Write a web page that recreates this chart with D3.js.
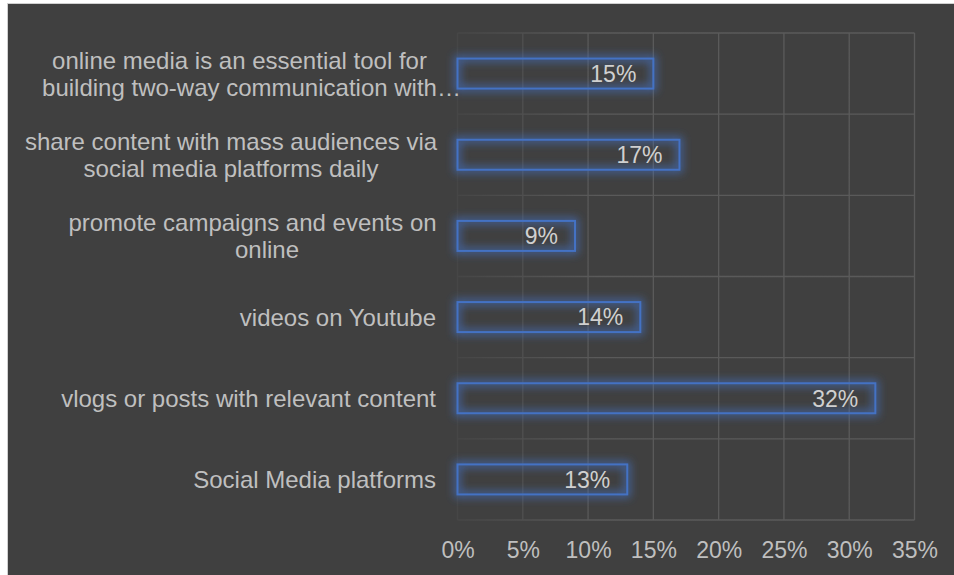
<!DOCTYPE html>
<html>
<head>
<meta charset="utf-8">
<script src="https://cdn.jsdelivr.net/npm/d3@7/dist/d3.min.js"></script>
<style>
  html, body { margin: 0; padding: 0; background: #404040; overflow: hidden; }
  svg { display: block; }
  text { font-family: "Liberation Sans", Arial, sans-serif; }
</style>
</head>
<body>
<svg id="chart" width="954" height="575"></svg>
<script>
// Category labels (wrapped lines), top to bottom
const categories = [
  ["online media is an essential tool for", "building two-way communication with\u2026"],
  ["share content with mass audiences via", "social media platforms daily"],
  ["promote campaigns and events on", "online"],
  ["videos on Youtube"],
  ["vlogs or posts with relevant content"],
  ["Social Media platforms"]
];
const values = [15, 17, 9, 14, 32, 13];
const tickValues = [0, 5, 10, 15, 20, 25, 30, 35];
const tickLabels = ["0%", "5%", "10%", "15%", "20%", "25%", "30%", "35%"];

// Horizontal centres for the lines of wrapped labels (single lines are right aligned)
const wrappedLineX = [[239.5, 251.5], [231, 231], [252.5, 267]];

const W = 954, H = 575;
const plot = { left: 457.5, right: 914.5, top: 33, bottom: 520 };
const labelRight = 436;

const svg = d3.select("#chart");

// Page margin (white) and the dark chart panel with a thin light edge
svg.append("rect").attr("x", 0).attr("y", 0).attr("width", W).attr("height", H).attr("fill", "#ffffff");
svg.append("rect").attr("x", 7.5).attr("y", 3.5).attr("width", W + 10).attr("height", H + 10)
  .attr("fill", "#404040").attr("stroke", "#d0d0d0").attr("stroke-width", 1);

const defs = svg.append("defs");
const glow = defs.append("filter").attr("id", "glow")
  .attr("x", "-20%").attr("y", "-100%").attr("width", "140%").attr("height", "300%");
glow.append("feGaussianBlur").attr("in", "SourceGraphic").attr("stdDeviation", 4);

// Grid lines fade in from the left
const grad = defs.append("linearGradient").attr("id", "gridFade")
  .attr("gradientUnits", "userSpaceOnUse")
  .attr("x1", plot.left).attr("x2", plot.left + 140).attr("y1", 0).attr("y2", 0);
grad.append("stop").attr("offset", "0%").attr("stop-color", "#464646");
grad.append("stop").attr("offset", "100%").attr("stop-color", "#5a5a5a");

const x = d3.scaleLinear().domain([0, 35]).range([plot.left, plot.right]);
const y = d3.scaleBand().domain(d3.range(categories.length)).range([plot.top, plot.bottom]).padding(0);

const grid = svg.append("g");
grid.selectAll("line.v").data(tickValues).join("line")
  .attr("x1", d => x(d)).attr("x2", d => x(d))
  .attr("y1", plot.top).attr("y2", plot.bottom)
  .attr("stroke", "url(#gridFade)").attr("stroke-width", 1.3);
const hLines = d3.range(categories.length + 1).map(i => plot.top + i * y.bandwidth());
grid.selectAll("line.h").data(hLines).join("line")
  .attr("x1", plot.left).attr("x2", plot.right)
  .attr("y1", d => d).attr("y2", d => d)
  .attr("stroke", "url(#gridFade)").attr("stroke-width", 1.3);

// Bars: outlined, with a soft blue glow around the outline
const barH = 30;
const barY = i => y(i) + y.bandwidth() / 2 - barH / 2;
svg.append("g").selectAll("rect").data(values).join("rect")
  .attr("x", x(0)).attr("y", (d, i) => barY(i))
  .attr("width", d => x(d) - x(0)).attr("height", barH)
  .attr("fill", "none")
  .attr("stroke", "#4472c4").attr("stroke-width", 6).attr("stroke-opacity", 0.75)
  .attr("filter", "url(#glow)");
svg.append("g").selectAll("rect").data(values).join("rect")
  .attr("x", x(0)).attr("y", (d, i) => barY(i))
  .attr("width", d => x(d) - x(0)).attr("height", barH)
  .attr("fill", "none")
  .attr("stroke", "#4472c4").attr("stroke-width", 2);

// Value labels inside bar ends
svg.append("g").selectAll("text").data(values).join("text")
  .attr("x", d => x(d) - 17)
  .attr("y", (d, i) => y(i) + y.bandwidth() / 2)
  .attr("dy", "0.36em")
  .attr("text-anchor", "end")
  .attr("font-size", 23)
  .attr("fill", "#d0d0d0")
  .text(d => d + "%");

// Category labels
const lineH = 27;
const lab = svg.append("g");
categories.forEach((lines, i) => {
  const cy = y(i) + y.bandwidth() / 2;
  lines.forEach((ln, j) => {
    const ly = cy + (j - (lines.length - 1) / 2) * lineH;
    const multi = lines.length > 1;
    lab.append("text")
      .attr("x", multi ? wrappedLineX[i][j] : labelRight)
      .attr("y", ly)
      .attr("dy", "0.36em")
      .attr("text-anchor", multi ? "middle" : "end")
      .attr("font-size", 24)
      .attr("fill", "#bfbfbf")
      .text(ln);
  });
});

// X axis tick labels
const xAxis = d3.axisBottom(x).tickValues(tickValues)
  .tickFormat((d, i) => tickLabels[i]).tickSize(0).tickPadding(0);
const ax = svg.append("g").attr("transform", `translate(0,${plot.bottom + 30})`).call(xAxis);
ax.select(".domain").remove();
ax.selectAll("text")
  .attr("dy", "0.36em").attr("y", 0)
  .attr("font-size", 23)
  .attr("font-family", "Liberation Sans, Arial, sans-serif")
  .attr("fill", "#bfbfbf");
</script>
</body>
</html>
